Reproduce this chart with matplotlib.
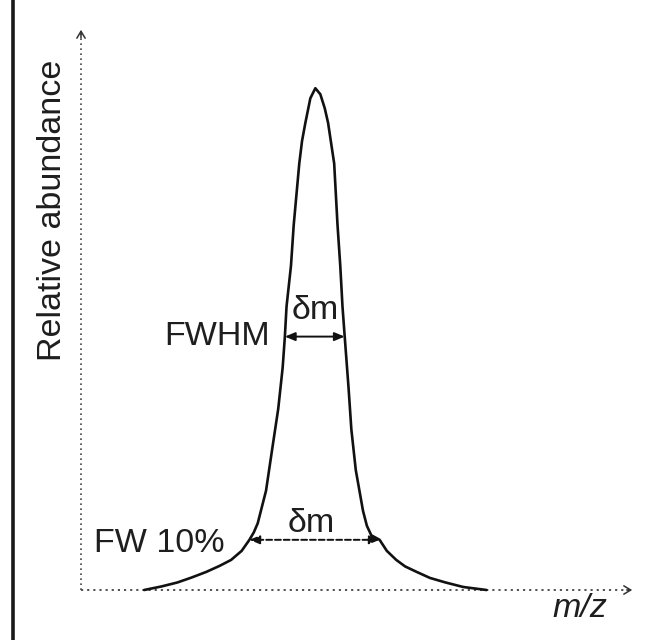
import matplotlib
matplotlib.use("Agg")
import matplotlib.pyplot as plt
from matplotlib.lines import Line2D

plt.rcParams['font.family'] = ['Liberation Sans', 'DejaVu Sans']

# Peak profile (m/z in arbitrary units, abundance in %)
mz = [11.4, 14.5, 17.4, 20.0, 22.6, 25.0, 27.1, 29.0, 30.4, 31.2, 31.9, 33.4,
      34.5, 35.6, 36.4, 36.8, 37.1, 37.9, 38.4, 39.4, 39.9, 40.5, 41.4, 42.3,
      43.2, 44.0, 44.6, 45.7, 46.3, 46.8, 47.2, 47.6, 48.3, 48.8, 49.6, 50.9,
      51.6, 52.4, 53.9, 55.2, 56.9, 58.5, 60.6, 63.0, 65.8, 69.0, 73.2]
abundance = [0.0, 0.7, 1.5, 2.5, 3.6, 4.8, 6.0, 7.8, 10.0, 11.5, 13.3, 19.8,
             28.0, 36.1, 44.3, 50.5, 56.5, 64.6, 72.8, 85.0, 89.5, 93.1, 98.0, 100.0,
             98.8, 96.0, 93.1, 85.0, 72.8, 64.6, 56.5, 50.5, 40.2, 32.0, 23.9, 15.8,
             12.8, 10.9, 10.0, 7.8, 6.0, 4.7, 3.6, 2.4, 1.5, 0.6, 0.0]

# Width markers
fwhm_left, fwhm_right, fwhm_level = 36.8, 47.6, 50.5
fw10_left, fw10_right, fw10_level = 30.4, 53.9, 10.0

W, H = 646, 640
fig = plt.figure(figsize=(W / 100, H / 100), dpi=100)
fig.patch.set_facecolor('white')

x0, x1 = 81, 635      # pixel extent of axes
ybase, ytop = 590, 27
ax = fig.add_axes([x0 / W, 1 - ybase / H, (x1 - x0) / W, (ybase - ytop) / H])
ax.set_xlim(0, 100)
ax.set_ylim(0, 112.2)
ax.axis('off')

fs = 24.5
tc = '#1e1e1e'

# Axes (dotted) with small open arrowheads
ax.plot([0, 0], [0, 111.5], linestyle=(0, (1, 2)), lw=1.2, color='#444', clip_on=False)
ax.plot([0, 99.5], [0, 0], linestyle=(0, (1.2, 2.2)), lw=1.3, color='#444', clip_on=False)
ax.annotate('', xy=(0, 112.2), xytext=(0, 109.5),
            arrowprops=dict(arrowstyle='->,head_length=0.5,head_width=0.3', lw=1.1, color='#333'),
            annotation_clip=False)
ax.annotate('', xy=(100, 0), xytext=(98, 0),
            arrowprops=dict(arrowstyle='->,head_length=0.5,head_width=0.3', lw=1.1, color='#333'),
            annotation_clip=False)

# Peak
ax.plot(mz, abundance, color='#111', lw=1.9, solid_joinstyle='round',
        solid_capstyle='round', clip_on=False)

# FWHM arrow
ax.annotate('', xy=(fwhm_left, fwhm_level), xytext=(fwhm_right, fwhm_level),
            arrowprops=dict(arrowstyle='<|-|>,head_length=0.6,head_width=0.25',
                            lw=1.4, color='#111', shrinkA=0, shrinkB=0))
# FW10% arrow
ax.annotate('', xy=(fw10_left, fw10_level), xytext=(fw10_right, fw10_level),
            arrowprops=dict(arrowstyle='<|-|>,head_length=0.6,head_width=0.25',
                            lw=1.4, color='#111', linestyle=(0, (3, 1.5)),
                            shrinkA=0, shrinkB=0))

# Labels
ax.text((fwhm_left + fwhm_right) / 2, 55.8, 'δm', ha='center', va='center',
        fontsize=fs, color=tc)
ax.text((fw10_left + fw10_right) / 2 - 0.5, 13.3, 'δm', ha='center', va='center',
        fontsize=fs, color=tc)
ax.text(34.1, fwhm_level, 'FWHM', ha='right', va='center', fontsize=fs, color=tc)
ax.text(26.0, fw10_level - 0.7, 'FW 10%', ha='right', va='center', fontsize=fs, color=tc)
ax.text(90.1, -3.6, 'm/z', ha='center', va='center', fontsize=fs, color=tc,
        style='italic', clip_on=False)
ax.text(-5.2, 75.7, 'Relative abundance', ha='center', va='center', rotation=90,
        fontsize=fs, color=tc, clip_on=False)

# Left frame line
fig.add_artist(Line2D([12.5 / W, 12.5 / W], [0, 1], transform=fig.transFigure,
                      color='#1a1a1a', lw=2.6))

fig.savefig('out.png', dpi=100, facecolor='white')
